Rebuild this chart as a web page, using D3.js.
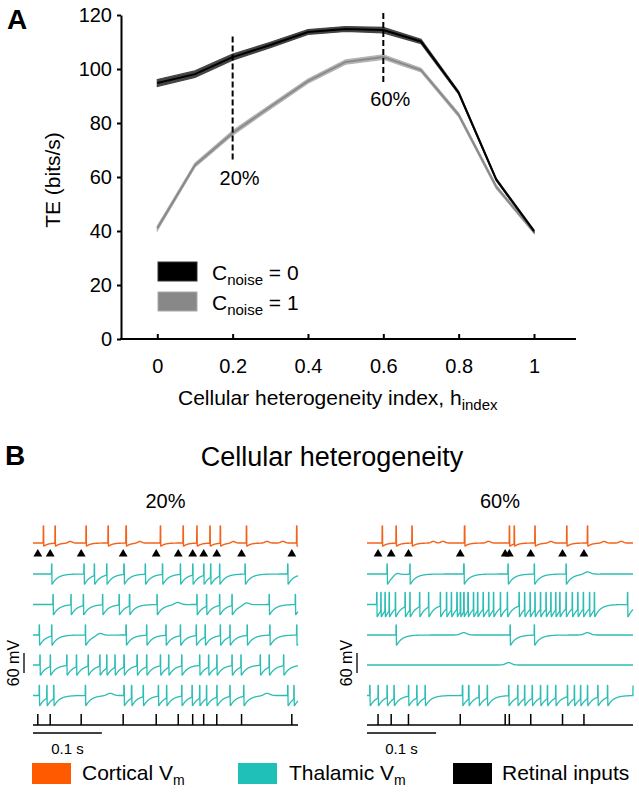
<!DOCTYPE html>
<html><head><meta charset="utf-8">
<script src="https://cdn.jsdelivr.net/npm/d3@7"></script>
<style>
html,body{margin:0;padding:0;background:#fff;}
svg{display:block;font-family:"Liberation Sans",Arial,Helvetica,sans-serif;}
</style></head>
<body>
<svg id="fig" width="639" height="800"></svg>
<script>
// ---------- Panel A data ----------
const hIndex   = [0,0.1,0.2,0.3,0.4,0.5,0.6,0.7,0.8,0.9,1];
const teNoise0 = [94.8,98.1,104.4,108.9,113.7,114.8,114.4,110.2,91.2,59,40];
const teNoise1 = [41,64.4,76.3,86,95.5,102.6,104.4,99.6,83,56.3,39.6];
const seNoise0 = [1.3,1.2,1.1,1.0,0.9,0.9,1.0,0.8,0.5,0.4,0.4];
const seNoise1 = [0.8,0.7,0.8,0.8,0.8,0.8,0.8,0.7,0.7,0.6,0.5];
const yTicks = [0,20,40,60,80,100,120];
const xTicks = [0,0.2,0.4,0.6,0.8,1];
const markers = [{h:0.2,label:"20%"},{h:0.6,label:"60%"}];

// ---------- Panel B data (times in ms) ----------
const retinalL  = [7,25,70,131,179,211,232,248,267,303,376];
const corticalL = [15,32,77,109,135,185,218,238,257,272,310,383];
const corticalBumpsL = [54,155,291,340,363];
const thalL = [
  [27,74,89,107,132,163,188,214,232,248,258,271,308,370],
  [29,55,73,101,125,140,180,238,252,271,289,343,381],
  [9,27,76,135,165,193,214,237,250,272,286,311,344,383],
  [10,25,49,63,80,97,107,119,132,151,165,185,197,216,242,255,267,289,302,330,343,364],
  [9,20,30,76,132,143,160,182,194,216,231,242,252,267,286,306,370,379]
];
const thalBumpsL = [[],[210,310],[97],[],[112,340]];

const retinalR  = [16,35,60,135,200,206,237,283,314];
const corticalR = [22,42,65,141,206,213,243,289,319];
const corticalBumpsR = [96,110,176,266,343,368];
const thalR = [
  [29,62,140,204,242,288],
  [14,20,26,32,41,55,62,76,89,106,115,122,130,135,140,146,154,160,168,176,183,193,203,220,228,236,243,251,259,266,273,279,288,297,305,313,322,329,377],
  [42,207,242],
  [],
  [4,16,29,39,60,72,84,138,147,162,174,205,218,228,239,251,261,273,290,300,309,319,334,348,385]
];
const thalBumpsR = [[43,319],[],[140,319],[205],[]];

const legendA = [{sub:"noise", val:"0", fill:"#000", stroke:"#333"},{sub:"noise", val:"1", fill:"#888", stroke:"#aaa"}];
const legendB = [{name:"Cortical V", sub:"m", color:"#FF5A00"},{name:"Thalamic V", sub:"m", color:"#1EC0B8"},{name:"Retinal inputs", sub:"", color:"#000"}];

const FONT = '"Liberation Sans",Arial,Helvetica,sans-serif';
const svg = d3.select("#fig");

// ================= Panel A =================
const x = d3.scaleLinear().domain([0,1]).range([157.3,534]);
const y = d3.scaleLinear().domain([0,120]).range([339,15]);
const gA = svg.append("g");

gA.append("text").attr("x",7).attr("y",29).attr("font-size",28).attr("font-weight","bold").text("A");

// y axis
const yAx = gA.append("g").attr("transform","translate(121,0)")
  .call(d3.axisLeft(y).tickValues(yTicks).tickSize(4).tickSizeOuter(0).tickPadding(5));
yAx.select(".domain").attr("stroke","#000").attr("stroke-width",2);
yAx.selectAll(".tick line").attr("stroke","#000").attr("stroke-width",2);
yAx.selectAll(".tick text").attr("font-size",20).attr("font-family",FONT).attr("fill","#000");

// x axis
gA.append("line").attr("x1",120).attr("x2",576).attr("y1",y(0)).attr("y2",y(0))
  .attr("stroke","#000").attr("stroke-width",2);
const xAx = gA.append("g").attr("transform",`translate(0,${y(0)})`)
  .call(d3.axisBottom(x).tickValues(xTicks).tickSize(-5).tickPadding(20).tickFormat(d3.format("~g")));
xAx.select(".domain").remove();
xAx.selectAll(".tick line").attr("stroke","#000").attr("stroke-width",2);
xAx.selectAll(".tick text").attr("font-size",20).attr("font-family",FONT).attr("fill","#000");

gA.append("text").attr("transform","translate(60,180) rotate(-90)").attr("text-anchor","middle")
  .attr("font-size",21).text("TE (bits/s)");
const xl = gA.append("text").attr("x",178).attr("y",405).attr("font-size",21);
xl.append("tspan").text("Cellular heterogeneity index, h");
xl.append("tspan").attr("font-size",15).attr("dy",5).text("index");

// series
function drawSeries(vals, se, band, line){
  const pts = hIndex.map((h,i)=>({h, v:vals[i], s:se[i]}));
  gA.append("path").datum(pts)
    .attr("d", d3.area().x(d=>x(d.h)).y0(d=>y(d.v-d.s)).y1(d=>y(d.v+d.s)))
    .attr("fill",band).attr("stroke",band).attr("stroke-width",1.2);
  gA.append("path").datum(pts)
    .attr("d", d3.line().x(d=>x(d.h)).y(d=>y(d.v)))
    .attr("fill","none").attr("stroke",line).attr("stroke-width",2);
}
drawSeries(teNoise1, seNoise1, "#b4b4b4", "#8a8a8a");
drawSeries(teNoise0, seNoise0, "#444", "#000");

// dashed markers
const markerSpan = {0.2:[112,65.5], 0.6:[120.7,94.8]};
markers.forEach(m=>{
  const s = markerSpan[m.h];
  gA.append("line").attr("x1",x(m.h)).attr("x2",x(m.h)).attr("y1",y(s[0])).attr("y2",y(s[1]))
    .attr("stroke","#000").attr("stroke-width",2).attr("stroke-dasharray","6,3");
  gA.append("text").attr("x",x(m.h)+7).attr("y",y(s[1])+23).attr("text-anchor","middle")
    .attr("font-size",20).text(m.label);
});

// legend A
legendA.forEach((d,i)=>{
  const yy = 262 + i*30;
  gA.append("rect").attr("x",158).attr("y",yy).attr("width",39).attr("height",19)
    .attr("fill",d.fill).attr("stroke",d.stroke).attr("stroke-width",1);
  const t = gA.append("text").attr("x",212).attr("y",yy+18).attr("font-size",21);
  t.append("tspan").text("C");
  t.append("tspan").attr("font-size",15).attr("dy",5).text(d.sub);
  t.append("tspan").attr("dy",-5).text(" = " + d.val);
});

// ================= Panel B =================
const gB = svg.append("g");
gB.append("text").attr("x",5).attr("y",465).attr("font-size",28).attr("font-weight","bold").text("B");
gB.append("text").attr("x",332).attr("y",466).attr("text-anchor","middle").attr("font-size",27)
  .text("Cellular heterogeneity");

const rowCenters = [574,604.5,635,665,695.5];
const corticalBase = 543;
const T = [0,385];
const step = 0.2;
const tSamples = d3.range(T[0], T[1]+step/2, step);

function lastSpike(spikes, t){
  let s = null;
  for (const v of spikes){ if (v <= t) s = v; else break; }
  return s;
}
function bumpSum(bumps, t, amp, w){
  let s = 0;
  for (const b of bumps){ const z=(t-b)/w; s += amp*Math.exp(-z*z); }
  return s;
}
function thalV(spikes, bumps, A, B){
  return t=>{
    const s = lastSpike(spikes,t);
    let v = 0;
    if (s!==null){
      const dt = t-s;
      if (dt < 0.6) v = A;
      else if (dt < 1.2) v = -B;
      else v = -B*Math.exp(-(dt-1.2)/8);
    }
    return v + bumpSum(bumps,t,7,6);
  };
}
function cortV(spikes, bumps){
  return t=>{
    const s = lastSpike(spikes,t);
    let v = 0;
    if (s!==null){
      const dt = t-s;
      if (dt < 0.6) v = 51;
      else if (dt < 1.2) v = -9;
      else v = -9*Math.exp(-(dt-1.2)/6);
    }
    return v + bumpSum(bumps,t,5,4);
  };
}

const panels = [
  {x0:33, x1:298, label:"20%", retinal:retinalL, cort:corticalL, cortB:corticalBumpsL, thal:thalL, thalB:thalBumpsL, vbarX:24, vtextX:19, denseRow:-1},
  {x0:367, x1:633, label:"60%", retinal:retinalR, cort:corticalR, cortB:corticalBumpsR, thal:thalR, thalB:thalBumpsR, vbarX:357, vtextX:352, denseRow:1}
];

panels.forEach(p=>{
  const tx = d3.scaleLinear().domain(T).range([p.x0,p.x1]);
  const g = gB.append("g");
  g.append("text").attr("x",(p.x0+p.x1)/2).attr("y",508).attr("text-anchor","middle")
    .attr("font-size",20).text(p.label);

  // cortical trace
  const vy = d3.scaleLinear().domain([-60,60]);
  const cy = vy.copy().range([corticalBase+20, corticalBase-20]);
  const cf = cortV(p.cort, p.cortB);
  g.append("path").datum(tSamples)
    .attr("d", d3.line().x(t=>tx(t)).y(t=>cy(cf(t))))
    .attr("fill","none").attr("stroke","#F4621A").attr("stroke-width",1.4).attr("stroke-linejoin","round");

  // retinal triangles
  g.selectAll(".tri").data(p.retinal).enter().append("path")
    .attr("transform",d=>`translate(${tx(d)},554)`)
    .attr("d", d3.symbol().type(d3.symbolTriangle).size(34))
    .attr("fill","#000");

  // thalamic traces
  p.thal.forEach((sp,i)=>{
    const c = rowCenters[i];
    const ry = vy.copy().range([c+20, c-20]);
    const amp = (i===p.denseRow) ? 36 : 30;
    const f = thalV(sp, p.thalB[i], amp, amp);
    g.append("path").datum(tSamples)
      .attr("d", d3.line().x(t=>tx(t)).y(t=>ry(f(t))))
      .attr("fill","none").attr("stroke","#2CBDB5").attr("stroke-width",1.3).attr("stroke-linejoin","round");
  });

  // retinal ticks
  g.append("line").attr("x1",tx(T[0])).attr("x2",tx(T[1])).attr("y1",725).attr("y2",725)
    .attr("stroke","#000").attr("stroke-width",1.3);
  g.selectAll(".rt").data(p.retinal).enter().append("line")
    .attr("x1",d=>tx(d)).attr("x2",d=>tx(d)).attr("y1",714).attr("y2",725)
    .attr("stroke","#000").attr("stroke-width",1.5);

  // time scale bar 0.1 s
  g.append("line").attr("x1",tx(0)).attr("x2",tx(100)).attr("y1",733).attr("y2",733)
    .attr("stroke","#000").attr("stroke-width",1.3);
  g.append("text").attr("x",(tx(0)+tx(100))/2).attr("y",754).attr("text-anchor","middle")
    .attr("font-size",15).text("0.1 s");

  // voltage scale bar 60 mV
  g.append("line").attr("x1",p.vbarX).attr("x2",p.vbarX).attr("y1",653).attr("y2",673)
    .attr("stroke","#000").attr("stroke-width",1.3);
  g.append("text").attr("transform",`translate(${p.vtextX},663) rotate(-90)`).attr("text-anchor","middle")
    .attr("font-size",16).text("60 mV");
});

// legend B
const legXs = [[32,82],[238,289],[453,502]];
legendB.forEach((d,i)=>{
  gB.append("rect").attr("x",legXs[i][0]).attr("y",763).attr("width",39).attr("height",21).attr("fill",d.color);
  const t = gB.append("text").attr("x",legXs[i][1]).attr("y",780).attr("font-size",21);
  t.append("tspan").text(d.name);
  if (d.sub) t.append("tspan").attr("font-size",14).attr("dy",5).text(d.sub);
});
</script>
</body></html>
